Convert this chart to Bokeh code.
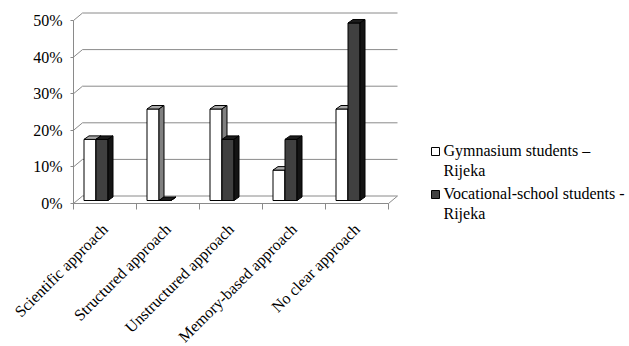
import numpy as np
from bokeh.plotting import figure
from bokeh.models import Range1d, FixedTicker, PrintfTickFormatter, CustomJSTickFormatter
from bokeh.embed import file_html
from bokeh.resources import INLINE

# ---- data ----
categories = ["Scientific approach", "Structured approach", "Unstructured approach",
              "Memory-based approach", "No clear approach"]
gymnasium = [16.7, 25.0, 25.0, 8.3, 25.0]
vocational = [16.7, 0.0, 16.7, 16.7, 48.5]
y_ticks = [0, 10, 20, 30, 40, 50]
series_names = ["Gymnasium students –\nRijeka", "Vocational-school students -\nRijeka"]

# ---- geometry (pixels) ----
W, H = 629, 346
ORIGIN_X, FLOOR_Y = 73, 203      # where 0 / 0% sit on the page
PX = 63.0     # pixels per category
PY = 3.66     # pixels per percent


def px2x(px):
    return (px - ORIGIN_X) / PX


def px2y(py):
    return (FLOOR_Y - py) / PY


DX, DY = 9 / PX, 7.5 / PY        # depth of the chart box
BDX, BDY = 5 / PX, 3.5 / PY      # depth of a bar
BASE = 3 / PY                    # bars stand slightly back on the floor
BW = 12 / PX                     # bar width
SHIFT = 9 / PX                   # group center offset from category center

FONT = "Liberation Serif"
GRID = "#8a8a8a"
FRONT = ["white", "#404040"]
TOPC = ["#a9a9a9", "#1c1c1c"]
SIDEC = ["#808080", "#141414"]

p = figure(width=W, height=H, output_backend="svg", toolbar_location=None,
           x_range=Range1d(px2x(0), px2x(W)), y_range=Range1d(px2y(H), px2y(0)),
           min_border_left=0, min_border_right=0, min_border_top=0,
           min_border_bottom=0)
p.outline_line_color = None
p.grid.visible = False

n = len(categories)
# back wall gridlines + side wall diagonals + floor edge
p.segment(x0=[DX] * len(y_ticks), y0=[t + DY for t in y_ticks],
          x1=[n + DX] * len(y_ticks), y1=[t + DY for t in y_ticks],
          line_color=GRID, line_width=1)
p.segment(x0=[0] * len(y_ticks), y0=y_ticks,
          x1=[DX] * len(y_ticks), y1=[t + DY for t in y_ticks],
          line_color=GRID, line_width=1)
p.segment(x0=[n], y0=[0], x1=[n + DX], y1=[DY], line_color=GRID, line_width=1)


def bar_faces(values, side):
    lefts, rights, tops, bottoms = [], [], [], []
    top_xs, top_ys, side_xs, side_ys = [], [], [], []
    for i, v in enumerate(values):
        c = i + 0.5 - SHIFT
        x0, x1 = (c - BW, c) if side == 0 else (c, c + BW)
        t = BASE + v
        lefts.append(x0); rights.append(x1); bottoms.append(BASE); tops.append(t)
        top_xs.append([x0, x1, x1 + BDX, x0 + BDX])
        top_ys.append([t, t, t + BDY, t + BDY])
        side_xs.append([x1, x1 + BDX, x1 + BDX, x1])
        side_ys.append([BASE, BASE + BDY, t + BDY, t])
    return lefts, rights, bottoms, tops, top_xs, top_ys, side_xs, side_ys


for k, vals in enumerate([gymnasium, vocational]):
    l, r, b, t, txs, tys, sxs, sys_ = bar_faces(vals, k)
    p.quad(left=l, right=r, bottom=b, top=t, fill_color=FRONT[k],
           line_color="black", line_width=1)
    p.patches(xs=txs, ys=tys, fill_color=TOPC[k], line_color="black", line_width=1)
    p.patches(xs=sxs, ys=sys_, fill_color=SIDEC[k], line_color="black", line_width=1)

# ---- axes ----
yax = p.yaxis[0]
yax.fixed_location = 0
yax.ticker = FixedTicker(ticks=y_ticks)
yax.formatter = PrintfTickFormatter(format="%d%%")
yax.bounds = (0, 50)
yax.axis_line_color = GRID
yax.major_tick_line_color = GRID
yax.major_tick_out = 3
yax.major_tick_in = 0
yax.minor_tick_line_color = None
yax.major_label_standoff = 8
yax.major_label_text_font = FONT
yax.major_label_text_font_size = "16px"
yax.major_label_text_color = "black"

xax = p.xaxis[0]
xax.fixed_location = 0
xax.ticker = FixedTicker(ticks=[i + 0.5 for i in range(n)],
                         minor_ticks=list(range(n + 1)))
xax.formatter = CustomJSTickFormatter(args=dict(labels=categories),
                                      code="return labels[Math.round(tick - 0.5)] || ''")
xax.bounds = (0, n)
xax.axis_line_color = GRID
xax.major_tick_out = 0
xax.major_tick_in = 0
xax.minor_tick_out = 6
xax.minor_tick_in = 0
xax.minor_tick_line_color = GRID
xax.major_label_orientation = np.pi / 4
xax.major_label_standoff = 17
xax.major_label_text_font = FONT
xax.major_label_text_font_size = "16px"
xax.major_label_text_color = "black"

# ---- legend (drawn in the frame, positions in pixels) ----
leg_px = [435, 435]
leg_py = [151, 194]
p.rect(x=[px2x(v) for v in leg_px], y=[px2y(v) for v in leg_py],
       width=8, height=8, width_units="screen", height_units="screen",
       fill_color=FRONT, line_color="black", line_width=1)
p.text(x=[px2x(v + 8) for v in leg_px], y=[px2y(v - 9.5) for v in leg_py],
       text=series_names, text_font=FONT, text_font_size="16px", text_color="black",
       text_baseline="top", text_align="left", text_line_height=1.2)

open("out.html", "w").write(file_html(p, INLINE))
